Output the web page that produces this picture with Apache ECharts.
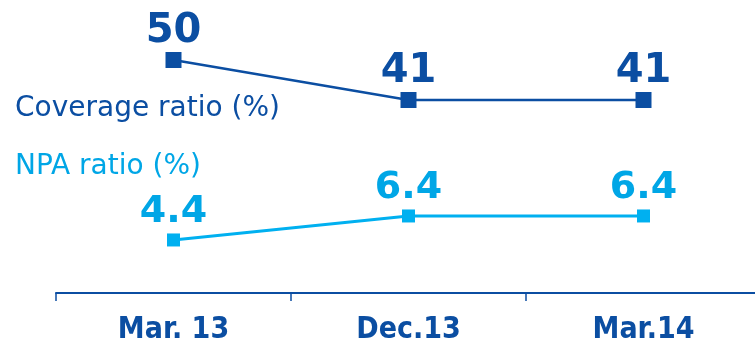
<!DOCTYPE html>
<html>
<head>
<meta charset="utf-8">
<script src="https://cdn.jsdelivr.net/npm/echarts@6/dist/echarts.min.js"></script>
<style>html,body{margin:0;padding:0;background:#fff}#c{width:755px;height:341px}</style>
</head>
<body>
<div id="c"></div>
<script>
const categories = ['Mar. 13', 'Dec.13', 'Mar.14'];
const coverageName = 'Coverage ratio (%)';
const coverageValues = [50, 41, 41];
const npaName = 'NPA ratio (%)';
const npaValues = [4.4, 6.4, 6.4];

const DARK = '#0b4ea2';
const LIGHT = '#00a6e6';
const LIGHT_LINE = '#00b0f0';

const chart = echarts.init(document.getElementById('c'), null, {renderer: 'canvas'});
chart.setOption({
  animation: false,
  backgroundColor: '#fff',
  grid: {left: 56, right: -6, top: 0, bottom: 48, containLabel: false, outerBoundsMode: 'none'},
  legend: [
    {data: [{name: coverageName, icon: 'none'}], left: 5, top: 90, itemWidth: 0, itemHeight: 0,
     textStyle: {color: DARK, fontFamily: 'DejaVu Sans', fontSize: 28}, selectedMode: false},
    {data: [{name: npaName, icon: 'none'}], left: 5, top: 148, itemWidth: 0, itemHeight: 0,
     textStyle: {color: LIGHT, fontFamily: 'DejaVu Sans', fontSize: 28}, selectedMode: false}
  ],
  xAxis: {
    type: 'category', data: categories, boundaryGap: true,
    axisLine: {onZero: false, lineStyle: {color: DARK, width: 2}},
    axisTick: {show: true, length: 8, lineStyle: {color: DARK, width: 1.5}},
    axisLabel: {color: DARK, fontFamily: 'DejaVu Sans Condensed', fontWeight: 'bold', fontSize: 30, margin: 22}
  },
  yAxis: [
    {type: 'value', min: -2.43, max: 63.5, show: false},
    {type: 'value', min: -0.02, max: 24.4, show: false}
  ],
  series: [
    {name: coverageName, type: 'line', yAxisIndex: 0, data: coverageValues,
     symbol: 'rect', symbolSize: 16, color: DARK,
     lineStyle: {color: DARK, width: 2.5},
     label: {show: true, position: 'top', distance: 0, color: DARK, fontFamily: 'DejaVu Sans', fontWeight: 'bold', fontSize: 40}},
    {name: npaName, type: 'line', yAxisIndex: 1, data: npaValues,
     symbol: 'rect', symbolSize: 13, color: LIGHT_LINE,
     lineStyle: {color: LIGHT_LINE, width: 3},
     label: {show: true, position: 'top', distance: 2, color: LIGHT, fontFamily: 'DejaVu Sans', fontWeight: 'bold', fontSize: 38}}
  ]
});
</script>
</body>
</html>
